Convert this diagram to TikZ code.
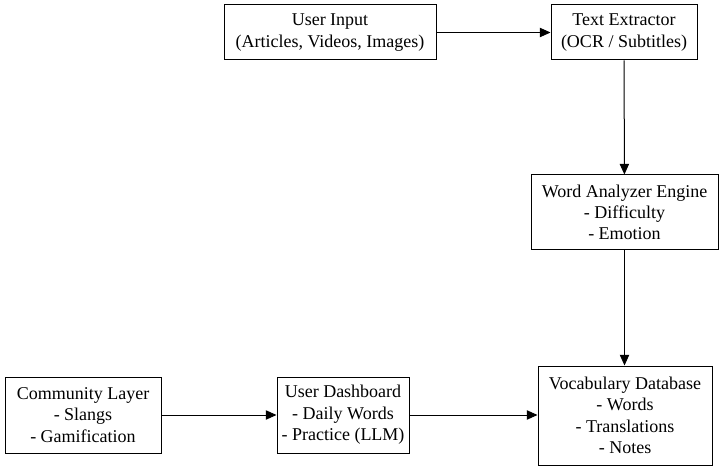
\documentclass[tikz,border=0pt]{standalone}
\usepackage{fontspec}
\setmainfont{Liberation Serif}
\usetikzlibrary{arrows.meta}
\begin{document}
\begin{tikzpicture}[x=0.75pt,y=-0.75pt,
  box/.style={draw,line width=0.75pt,align=center,inner sep=0pt,
    font=\fontsize{13.5}{16}\selectfont},
  arr/.style={line width=0.75pt,-{Triangle[length=8pt,width=7pt]}}]
\useasboundingbox (0,0) rectangle (724,470);
\node[box,minimum width=159pt,minimum height=41.25pt] (ui) at (330,32.5) {User Input\\(Articles, Videos, Images)};
\node[box,minimum width=109.5pt,minimum height=41.25pt] (te) at (624,32.5) {Text Extractor\\(OCR / Subtitles)};
\node[box,minimum width=140.25pt,minimum height=56.25pt] (wa) at (624.5,212.5) {Word Analyzer Engine\\- Difficulty\\- Emotion};
\node[box,minimum width=130.5pt,minimum height=74.25pt] (vd) at (625,415.5) {Vocabulary Database\\- Words\\- Translations\\- Notes};
\node[box,minimum width=99pt,minimum height=57pt] (ud) at (343,415) {User Dashboard\\- Daily Words\\- Practice (LLM)};
\node[box,minimum width=117pt,minimum height=57pt] (cl) at (83,415) {Community Layer\\- Slangs\\- Gamification};
\draw[arr] (ui) -- (te);
\draw[arr] (te) -- (wa);
\draw[arr] (wa.south) -- (wa.south |- vd.north);
\draw[arr] (cl) -- (ud);
\draw[arr] (ud) -- (ud -| vd.west);
\end{tikzpicture}
\end{document}
